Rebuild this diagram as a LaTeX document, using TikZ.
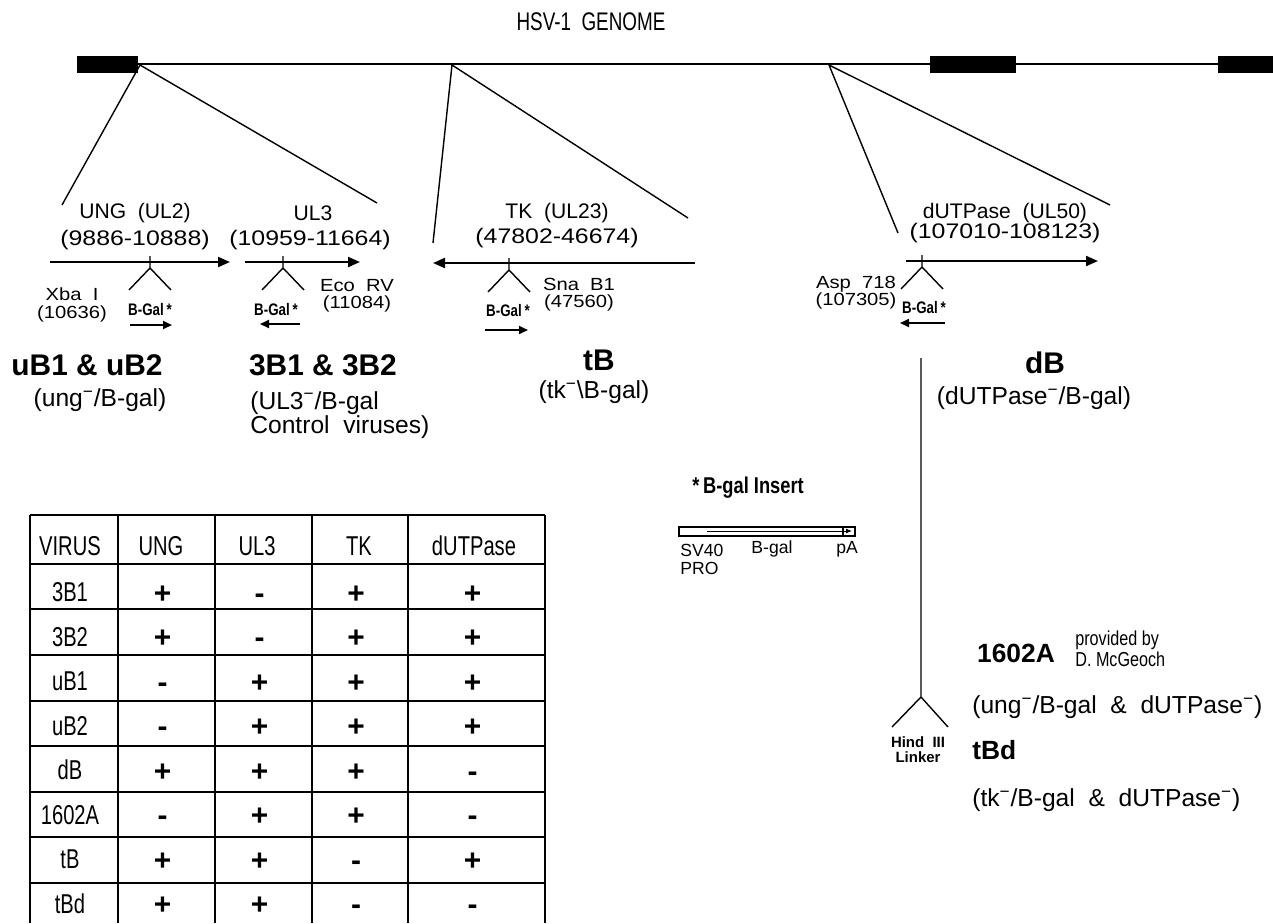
\documentclass[tikz,border=0pt]{standalone}
\usepackage{fontspec}
\setmainfont{Liberation Sans}
\newfontfamily\widesf{Liberation Sans}[FakeStretch=1.15]
\newfontfamily\posfont{Liberation Sans}[FakeStretch=1.18]
\newfontfamily\tablesf{Liberation Sans}[FakeStretch=0.74]
\newfontfamily\heavysf{Liberation Sans}[FakeStretch=0.8]
\newcommand{\supminus}{\textsuperscript{\char"2212}}
\usetikzlibrary{arrows.meta}

\begin{document}
\begin{tikzpicture}[
    x=0.2mm, y=-0.2mm,
    genome/.style={line width=1.7pt},
    branch/.style={line width=0.8pt},
    gene/.style={line width=1.2pt, -{Triangle[length=2.4mm,width=2mm]}},
    lacz/.style={line width=1.1pt, -{Triangle[length=1.8mm,width=1.6mm]}},
    genename/.style={font=\fontsize{12}{14}\selectfont, inner sep=0pt},
    genepos/.style={font=\posfont\fontsize{12}{14}\selectfont, inner sep=0pt},
    sitelabel/.style={font=\widesf\fontsize{10}{9.8}\selectfont, inner sep=0pt,
                      align=center},
    bgal/.style={font=\heavysf\bfseries\fontsize{9.5}{9.5}\selectfont, inner sep=0pt},
    virus/.style={font=\bfseries\fontsize{17}{20}\selectfont, inner sep=0pt},
    genotype/.style={font=\fontsize{14}{14}\selectfont, inner sep=0pt,
                     align=center},
    cell/.style={font=\tablesf\fontsize{15.5}{16}\selectfont, inner sep=0pt,
                 anchor=base},
    sign/.style={font=\bfseries\fontsize{17}{17}\selectfont, inner sep=0pt,
                 anchor=base},
    rule/.style={line width=0.7pt}
]
\useasboundingbox (0,0) rectangle (1273,923);

% Genome
\node[font=\tablesf\fontsize{14.5}{14.5}\selectfont] (title) at (591,22) {HSV-1~~GENOME};
\draw[genome] (138,64) -- (1273,64);
\fill (77,56) rectangle (138,73);
\fill (930,56) rectangle (1016,73);
\fill (1218,56) rectangle (1273,73);

% Branch points and expanded regions
\coordinate (ubr) at (140,65);
\coordinate (tbr) at (452,65);
\coordinate (dbr) at (829,65);
\coordinate (ubrL) at (62,205);
\coordinate (ubrR) at (377,203);
\coordinate (tbrL) at (433,243);
\coordinate (tbrR) at (688,218);
\coordinate (dbrL) at (898,233);
\coordinate (dbrR) at (1110,205);
\draw[branch] (ubrL) -- (ubr) -- (ubrR);
\draw[branch] (tbrL) -- (tbr) -- (tbrR);
\draw[branch] (dbrL) -- (dbr) -- (dbrR);

% Genes
\draw[gene] (50,262) -- (230,262);
\draw[gene] (245,262) -- (360,262);
\draw[gene] (695,263) -- (433,263);
\draw[gene] (906,261) -- (1098,261);

\node[genename] (ung) at (135,213) {UNG~~(UL2)};
\node[genepos] (ungpos) at (135,240) {(9886-10888)};
\node[genename] (ul3) at (313,213) {UL3};
\node[genepos] (ul3pos) at (310,240) {(10959-11664)};
\node[genename] (tk) at (557,213) {TK~~(UL23)};
\node[genepos] (tkpos) at (557,238) {(47802-46674)};
\node[genename] (dut) at (1005,213) {dUTPase~~(UL50)};
\node[genepos] (dutpos) at (1005,233) {(107010-108123)};

% Insertion sites
\foreach \x/\y in {150/262, 283/262, 509/264, 922/261}
    \draw[branch] (\x,\y-6) -- (\x,\y+6) -- ++(-21,22)
                  (\x,\y+6) -- ++(21,22);

\node[sitelabel] (xba) at (72,305) {Xba~~I\\(10636)};
\node[sitelabel] (eco) at (357,296) {Eco~~RV\\(11084)};
\node[sitelabel] (sna) at (579,295) {Sna~~B1\\(47560)};
\node[sitelabel] (asp) at (856,293) {Asp~~718\\(107305)};

% B-gal cassettes
\node[bgal] (bg1) at (150,310) {B-Gal\,*};
\node[bgal] (bg2) at (276,310) {B-Gal\,*};
\node[bgal] (bg3) at (508,311) {B-Gal\,*};
\node[bgal] (bg4) at (924,308) {B-Gal\,*};
\draw[lacz] (130,325) -- (172,325);
\draw[lacz] (300,324) -- (260,324);
\draw[lacz] (485,330) -- (528,330);
\draw[lacz] (945,323) -- (900,323);

% Recombinant viruses
\node[virus] (ub) at (87,365) {uB1 \& uB2};
\node[genotype] (ubtype) at (100,400) {(ung\supminus/B-gal)};
\node[virus] (b3) at (323,365) {3B1 \& 3B2};
\node[genotype, anchor=west, align=left] (b3type) at (250,415)
    {(UL3\supminus/B-gal\\Control~~viruses)};
\node[virus] (tb) at (599,360) {tB};
\node[genotype] (tbtype) at (594,392) {(tk\supminus\textbackslash B-gal)};
\node[virus] (db) at (1045,363) {dB};
\node[genotype] (dbtype) at (1034,398) {(dUTPase\supminus/B-gal)};

% B-gal insert
\node[font=\heavysf\bfseries\fontsize{13}{13}\selectfont, inner sep=0pt]
    (inshead) at (748,488) {*\,B-gal Insert};
\draw[line width=0.6pt] (679,527) rectangle (855,536);
\draw[line width=0.5pt, -{Latex[length=1.2mm,width=1mm]}] (707,531) -- (852,531);
\draw[line width=0.6pt] (843,527) -- (843,536);
\node[font=\fontsize{10}{10}\selectfont, inner sep=0pt, align=left,
      anchor=north west] (sv40) at (680,544) {SV40\\PRO};
\node[font=\fontsize{10}{10}\selectfont, inner sep=0pt] (bgalt) at (772,549) {B-gal};
\node[font=\fontsize{10}{10}\selectfont, inner sep=0pt] (pa) at (847,549) {pA};

% Double mutants
\coordinate (dtop) at (921,358);
\coordinate (hind) at (921,697);
\draw[branch] (dtop) -- (hind) -- ++(-29,30) (hind) -- ++(27,30);
\node[font=\bfseries\fontsize{8.5}{8.5}\selectfont, inner sep=0pt, align=center]
    (linker) at (918,750) {Hind~~III\\Linker};
\node[virus, font=\bfseries\fontsize{15}{15}\selectfont] (m1602) at (1016,653) {1602A};
\node[font=\heavysf\fontsize{11.5}{10.2}\selectfont, inner sep=0pt, align=left,
      anchor=west] (mcgeoch) at (1075,649) {provided by\\D.~McGeoch};
\node[genotype, anchor=west] (m1602type) at (972,707)
    {(ung\supminus/B-gal~~\&~~dUTPase\supminus)};
\node[virus, font=\bfseries\fontsize{15}{15}\selectfont, anchor=west] (tbd) at (972,750) {tBd};
\node[genotype, anchor=west] (tbdtype) at (972,800)
    {(tk\supminus/B-gal~~\&~~dUTPase\supminus)};

% Phenotype table
\foreach \x in {30,118,215,312,408,545}
    \draw[rule] (\x,515) -- (\x,923);
\foreach \y in {515,564,609,655,701,746,792,837,883}
    \draw[rule] (30,\y) -- (545,\y);
\foreach \h/\x [count=\i] in {VIRUS/70, UNG/161, UL3/257, TK/359, dUTPase/474}
    \node[cell] (h\i) at (\x,555) {\h};
\foreach \v/\a/\b/\c/\d [count=\r from 0] in {3B1/+/-/+/+, 3B2/+/-/+/+,
        uB1/-/+/+/+, uB2/-/+/+/+, dB/+/+/+/-, 1602A/-/+/+/-,
        tB/+/+/-/+, tBd/+/+/-/-}
{
    \pgfmathsetmacro\yy{601.7+44.5*\r}
    \pgfmathsetmacro\ys{603+44.5*\r}
    \node[cell] (v\r) at (70,\yy) {\v};
    \node[sign] (a\r) at (162.5,\ys) {\a};
    \node[sign] (b\r) at (259.5,\ys) {\b};
    \node[sign] (c\r) at (356,\ys) {\c};
    \node[sign] (d\r) at (472.5,\ys) {\d};
}
\end{tikzpicture}
\end{document}
